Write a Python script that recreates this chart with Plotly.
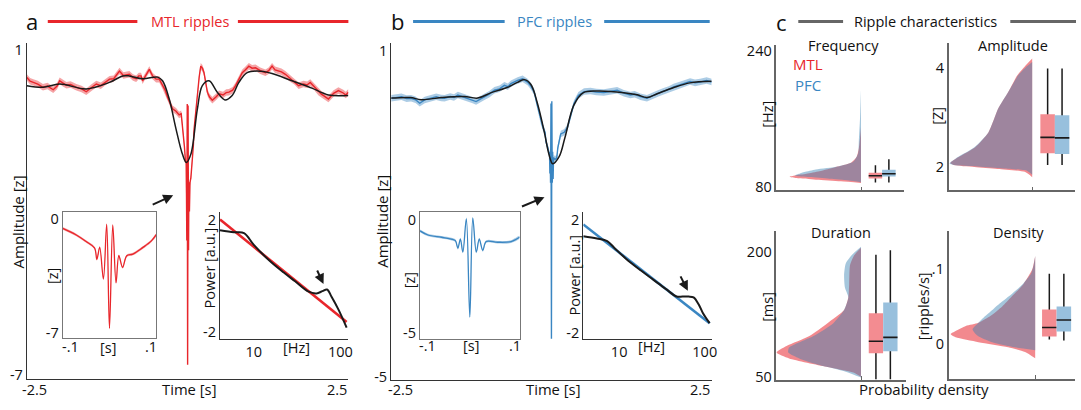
import plotly.graph_objects as go

W, H = 1081, 410
FONT = "Open Sans"

# ================= DATA =================
# ---- a: MTL ripple-locked average LFP [z] vs time [s]
mtl_t_pre = [-2.5, -2.45, -2.4, -2.33, -2.25, -2.18, -2.09, -2.03, -1.99, -1.94, -1.885, -1.82, -1.73,
             -1.65, -1.576, -1.5, -1.42, -1.35, -1.28, -1.215, -1.15, -1.1, -1.06, -1.0, -0.95, -0.906,
             -0.85, -0.8, -0.76, -0.724, -0.7, -0.65, -0.596, -0.545, -0.49, -0.441, -0.39, -0.35,
             -0.313, -0.27, -0.235, -0.18, -0.132]
mtl_v_pre = [0.33, 0.24, 0.21, 0.17, 0.09, 0.12, 0.03, 0.12, 0.25, 0.19, 0.14, 0.16, 0.09,
             0.05, -0.02, 0.08, 0.17, 0.13, 0.22, 0.29, 0.3, 0.42, 0.49, 0.38, 0.4, 0.41,
             0.33, 0.3, 0.37, 0.37, 0.25, 0.4, 0.53, 0.37, 0.29, 0.29, 0.13, 0.02,
             -0.15, -0.3, -0.44, -0.5, -0.59]
mtl_zoom_t = [-0.1, -0.071, -0.05, -0.032, -0.027, -0.021, -0.013, -0.006, 0.0, 0.007, 0.014,
              0.02, 0.028, 0.037, 0.05, 0.071, 0.089, 0.1]
mtl_zoom_v = [-0.56, -0.97, -1.37, -1.77, -2.47, -1.73, -3.68, -0.32, -6.74, -0.36, -3.92,
              -2.25, -2.97, -2.25, -2.15, -1.75, -1.35, -0.95]
mtl_t_post = [0.13, 0.152, 0.18, 0.204, 0.23, 0.255, 0.28, 0.307, 0.34, 0.384, 0.44, 0.488, 0.55,
              0.6, 0.642, 0.7, 0.746, 0.8, 0.85, 0.9, 0.952, 1.003, 1.056, 1.13, 1.21, 1.26, 1.313,
              1.36, 1.4, 1.46, 1.52, 1.6, 1.66, 1.726, 1.8, 1.86, 1.907, 1.97, 2.036, 2.08, 2.12,
              2.19, 2.27, 2.345, 2.42, 2.46, 2.5]
mtl_v_post = [-0.45, -0.03, 0.35, 0.61, 0.56, 0.45, 0.2, -0.03, -0.15, -0.23, -0.15, -0.07, -0.1,
              -0.04, -0.03, 0.02, 0.13, 0.3, 0.45, 0.52, 0.61, 0.56, 0.57, 0.5, 0.45, 0.5, 0.61,
              0.52, 0.5, 0.47, 0.41, 0.3, 0.24, 0.13, 0.17, 0.15, 0.21, 0.1, -0.03, -0.08, -0.12,
              -0.2, -0.06, 0.01, -0.05, -0.1, -0.03]
mtl_sem = 0.08
mtl_slow_t = [-2.5, -2.248, -1.989, -1.576, -1.215, -1.009, -0.906, -0.7, -0.467, -0.39, -0.286,
              -0.183, -0.08, -0.019, 0.05, 0.152, 0.229, 0.333, 0.461, 0.58, 0.693, 0.797, 0.926,
              1.08, 1.313, 1.622, 1.932, 2.19, 2.5]
mtl_slow_v = [0.13, 0.09, 0.17, 0.05, 0.21, 0.37, 0.37, 0.3, 0.34, 0.25, -0.2,
              -0.92, -1.56, -1.76, -1.56, -0.44, 0.13, 0.25, -0.03, -0.22, -0.11, 0.21, 0.45,
              0.49, 0.43, 0.25, 0.07, -0.1, -0.11]
mtl_psd_f = [4.07, 5.9, 7.7, 10, 15, 22, 30, 43, 53, 62, 70, 79, 95, 118]
mtl_psd_p = [1.62, 1.55, 1.52, 1.1, 0.55, 0.12, -0.2, -0.57, -0.63, -0.55, -0.49, -0.75, -1.21, -1.85]
mtl_fit_f = [4.07, 118]
mtl_fit_p = [2.0, -1.65]

# ---- b: PFC
pfc_t_pre = [-2.5, -2.42, -2.34, -2.26, -2.19, -2.12, -2.055, -1.977, -1.9, -1.797, -1.72, -1.667,
             -1.58, -1.52, -1.46, -1.38, -1.304, -1.24, -1.175, -1.11, -1.045, -0.97, -0.89, -0.81,
             -0.734, -0.68, -0.632, -0.58, -0.528, -0.45, -0.373, -0.32, -0.27, -0.22, -0.166, -0.13]
pfc_v_pre = [0.125, 0.14, 0.156, 0.12, 0.125, 0.1, 0.035, 0.096, 0.12, 0.156, 0.13, 0.125,
             0.16, 0.14, 0.186, 0.15, 0.125, 0.1, 0.066, 0.11, 0.156, 0.2, 0.275, 0.3,
             0.365, 0.34, 0.395, 0.43, 0.455, 0.485, 0.425, 0.35, 0.245, 0.0, -0.29, -0.42]
pfc_zoom_t = [-0.1, -0.084, -0.057, -0.037, -0.029, -0.024, -0.019, -0.014, -0.007, 0.0, 0.006,
              0.013, 0.019, 0.026, 0.033, 0.056, 0.083, 0.1]
pfc_zoom_v = [-0.5, -0.68, -0.78, -0.86, -0.93, -1.26, -0.86, -1.43, 0.03, -4.3, 0.07,
              -1.43, -0.86, -1.36, -0.97, -1.0, -0.97, -0.78]
pfc_t_post = [0.145, 0.2, 0.25, 0.3, 0.352, 0.42, 0.508, 0.61, 0.7, 0.818, 0.92, 1.025, 1.13, 1.23,
              1.3, 1.387, 1.49, 1.595, 1.67, 1.75, 1.83, 1.905, 1.98, 2.06, 2.163, 2.24, 2.32,
              2.42, 2.5]
pfc_v_post = [-0.53, -0.5, -0.41, -0.2, 0.03, 0.18, 0.25, 0.26, 0.24, 0.233, 0.26, 0.275, 0.22,
              0.186, 0.2, 0.156, 0.125, 0.186, 0.22, 0.258, 0.29, 0.335, 0.36, 0.395, 0.437, 0.41,
              0.425, 0.455, 0.425]
pfc_sem = 0.06
pfc_slow_t = [-2.5, -2.2, -2.03, -1.72, -1.36, -1.15, -0.94, -0.68, -0.53, -0.42, -0.32, -0.22,
              -0.11, -0.04, 0.02, 0.12, 0.21, 0.35, 0.5, 0.71, 1.13, 1.34, 1.49, 1.65, 1.9, 2.16, 2.5]
pfc_slow_v = [0.13, 0.14, 0.1, 0.14, 0.16, 0.13, 0.23, 0.33, 0.42, 0.47, 0.38, 0.04,
              -0.5, -0.9, -1.08, -0.95, -0.6, 0.0, 0.23, 0.26, 0.23, 0.19, 0.14, 0.21, 0.32, 0.41, 0.44]
pfc_psd_f = [3.81, 5.5, 7.25, 8.8, 12, 18, 25, 35, 47, 55, 65, 74, 85, 95, 114]
pfc_psd_p = [1.41, 1.33, 1.24, 1.0, 0.62, 0.2, -0.12, -0.45, -0.72, -0.72, -0.72, -0.75, -1.0, -1.3, -1.66]
pfc_fit_f = [3.81, 114]
pfc_fit_p = [1.83, -1.66]

# ---- c: ripple characteristics (half-violin relative density + box stats lo,q1,med,q3,hi)
freq_mtl_hz = [84, 86, 88, 90, 91.5, 93, 95, 98, 103, 108, 115, 125, 140, 150]
freq_mtl_dens = [0, 0.28, 0.63, 0.9, 1.0, 0.92, 0.76, 0.58, 0.35, 0.14, 0.06, 0.03, 0.01, 0]
freq_pfc_hz = [85, 87, 89, 91, 93, 95, 97, 100, 103.5, 109, 119, 134, 160, 194]
freq_pfc_dens = [0, 0.17, 0.44, 0.72, 0.92, 0.86, 0.79, 0.63, 0.32, 0.11, 0.04, 0.03, 0.014, 0]
freq_mtl_box = [84.6, 89.3, 92.7, 96.2, 105]
freq_pfc_box = [84.6, 91.6, 95.0, 99.6, 112]

amp_mtl_z = [1.79, 1.9, 1.96, 2.0, 2.04, 2.08, 2.2, 2.4, 2.7, 3.19, 3.52, 3.86, 4.04, 4.2]
amp_mtl_dens = [0, 0.09, 0.42, 0.7, 0.95, 0.99, 0.89, 0.69, 0.53, 0.41, 0.29, 0.18, 0.09, 0]
amp_pfc_z = [1.84, 1.92, 1.97, 2.01, 2.04, 2.07, 2.2, 2.4, 2.7, 3.19, 3.52, 3.86, 4.02, 4.13]
amp_pfc_dens = [0, 0.06, 0.35, 0.66, 0.95, 1.0, 0.9, 0.7, 0.53, 0.41, 0.29, 0.17, 0.08, 0]
amp_mtl_box = [2.04, 2.28, 2.6, 3.07, 4.0]
amp_pfc_box = [2.04, 2.26, 2.59, 3.05, 4.0]

dur_mtl_ms = [50, 55, 62, 72, 79, 87, 99, 114, 130, 145, 161, 184, 196, 205]
dur_mtl_dens = [0, 0.09, 0.41, 0.85, 1.0, 0.88, 0.61, 0.4, 0.2, 0.15, 0.14, 0.13, 0.08, 0]
dur_pfc_ms = [49, 56, 64, 72, 79, 85, 99, 114, 130, 145, 157, 172, 186, 197, 206]
dur_pfc_dens = [0, 0.18, 0.49, 0.73, 0.86, 0.85, 0.56, 0.33, 0.2, 0.15, 0.19, 0.2, 0.18, 0.1, 0]
dur_mtl_box = [46.5, 78.1, 92.5, 126.2, 196.5]
dur_pfc_box = [46.5, 80.5, 97.2, 139, 202]

dens_mtl_val = [-0.02, -0.0114, -0.005, 0.0018, 0.0083, 0.0127, 0.017, 0.0237, 0.028, 0.037, 0.05,
                0.063, 0.08, 0.1, 0.118]
dens_mtl_dens = [0, 0.12, 0.32, 0.67, 0.94, 1.0, 0.94, 0.82, 0.67, 0.53, 0.39, 0.28, 0.14, 0.035, 0]
dens_pfc_val = [-0.009, -0.005, 0.0018, 0.0105, 0.019, 0.028, 0.037, 0.047, 0.054, 0.0675, 0.081,
                0.094, 0.105, 0.118]
dens_pfc_dens = [0, 0.24, 0.51, 0.68, 0.74, 0.67, 0.59, 0.49, 0.42, 0.27, 0.14, 0.05, 0.02, 0]
dens_mtl_box = [0.0053, 0.0096, 0.0215, 0.0457, 0.094]
dens_pfc_box = [0.004, 0.0162, 0.0316, 0.05, 0.094]

# ================= STYLE =================
RED = "#E8262B"
BLUE = "#3A86C2"
BLACK = "#1a1a1a"
TXT = "#111111"
GRAY = "#666666"
RED_BAND = "rgba(232,38,43,0.42)"
BLUE_BAND = "rgba(58,134,194,0.42)"
VIOLIN_RED = "rgba(231,40,50,0.55)"
VIOLIN_BLUE = "rgba(55,128,178,0.45)"
BOX_RED = "#F38C91"
BOX_BLUE = "#98C0DD"
FS = 14.5


def px(x):
    return x / W


def py(y):
    return 1 - y / H


def ids(n):
    return ("x" if n == 1 else f"x{n}", "y" if n == 1 else f"y{n}")


fig = go.Figure()


def add_line(n, x, y, color, width, shape="linear"):
    xa, ya = ids(n)
    fig.add_trace(go.Scatter(x=list(x), y=list(y), xaxis=xa, yaxis=ya, mode="lines",
                             line=dict(color=color, width=width, shape=shape),
                             hoverinfo="skip", showlegend=False))


def add_band(n, x, y, sem, color, shape="linear"):
    xa, ya = ids(n)
    xs = list(x) + list(x)[::-1]
    ys = [v + sem for v in y] + [v - sem for v in y][::-1]
    fig.add_trace(go.Scatter(x=xs, y=ys, xaxis=xa, yaxis=ya, mode="lines", fill="toself",
                             fillcolor=color, line=dict(width=0, shape=shape),
                             hoverinfo="skip", showlegend=False))


def add_violin(n, vals, dens, vw, color):
    xa, ya = ids(n)
    fig.add_trace(go.Scatter(x=[-d * vw for d in dens], y=list(vals), xaxis=xa, yaxis=ya,
                             mode="lines", fill="toself", fillcolor=color,
                             line=dict(width=0, shape="spline", smoothing=0.6),
                             hoverinfo="skip", showlegend=False))


def add_box(n, stats, c, hw, fill):
    lo, q1, med, q3, hi = stats
    xa, ya = ids(n)
    add_line(n, [c, c], [lo, hi], BLACK, 1.5)
    fig.add_trace(go.Scatter(x=[c - hw, c + hw, c + hw, c - hw, c - hw], y=[q1, q1, q3, q3, q1],
                             xaxis=xa, yaxis=ya, mode="lines", fill="toself", fillcolor=fill,
                             line=dict(width=0), hoverinfo="skip", showlegend=False))
    add_line(n, [c - hw, c + hw], [med, med], BLACK, 1.6)


# ---- panel a
mtl_t = mtl_t_pre + mtl_zoom_t + mtl_t_post
mtl_v = mtl_v_pre + mtl_zoom_v + mtl_v_post
add_band(1, mtl_t, mtl_v, mtl_sem, RED_BAND)
add_line(1, mtl_t, mtl_v, RED, 1.4)
add_line(1, mtl_slow_t, mtl_slow_v, BLACK, 1.5, "spline")
add_band(2, mtl_zoom_t, mtl_zoom_v, mtl_sem, RED_BAND, "spline")
add_line(2, mtl_zoom_t, mtl_zoom_v, RED, 1.3, "spline")
add_line(3, mtl_fit_f, mtl_fit_p, RED, 2.6)
add_line(3, mtl_psd_f, mtl_psd_p, BLACK, 2.0, "spline")

# ---- panel b
pfc_t = pfc_t_pre + pfc_zoom_t + pfc_t_post
pfc_v = pfc_v_pre + pfc_zoom_v + pfc_v_post
add_band(4, pfc_t, pfc_v, pfc_sem, BLUE_BAND)
add_line(4, pfc_t, pfc_v, BLUE, 1.4)
add_line(4, pfc_slow_t, pfc_slow_v, BLACK, 1.5, "spline")
add_band(5, pfc_zoom_t, pfc_zoom_v, pfc_sem, BLUE_BAND, "spline")
add_line(5, pfc_zoom_t, pfc_zoom_v, BLUE, 1.3, "spline")
add_line(6, pfc_fit_f, pfc_fit_p, BLUE, 2.6)
add_line(6, pfc_psd_f, pfc_psd_p, BLACK, 2.0, "spline")

# ---- panel c
c_specs = [
    (7, freq_mtl_hz, freq_mtl_dens, freq_pfc_hz, freq_pfc_dens, freq_mtl_box, freq_pfc_box, 72, 14.5, 28, 6.8),
    (8, amp_mtl_z, amp_mtl_dens, amp_pfc_z, amp_pfc_dens, amp_mtl_box, amp_pfc_box, 83, 15.5, 30, 7.3),
    (9, dur_mtl_ms, dur_mtl_dens, dur_pfc_ms, dur_pfc_dens, dur_mtl_box, dur_pfc_box, 85, 15, 29.5, 7.2),
    (10, dens_mtl_val, dens_mtl_dens, dens_pfc_val, dens_pfc_dens, dens_mtl_box, dens_pfc_box, 85, 14.2, 28.8, 7.3),
]
for n, mv, md, pv, pd_, mb, pb, vw, cr, cb, hw in c_specs:
    add_violin(n, mv, md, vw, VIOLIN_RED)
    add_violin(n, pv, pd_, vw, VIOLIN_BLUE)
    add_box(n, mb, cr, hw, BOX_RED)
    add_box(n, pb, cb, hw, BOX_BLUE)

# ================= AXES =================
layout = dict(width=W, height=H, margin=dict(l=0, r=0, t=0, b=0), autosize=False,
              paper_bgcolor="white", plot_bgcolor="rgba(0,0,0,0)", showlegend=False,
              font=dict(family=FONT, size=FS, color=TXT))


def set_axes(n, xpx, ypx, xr, yr, xkw=None, ykw=None):
    xa, ya = ids(n)
    base = dict(showgrid=False, zeroline=False, showline=True, ticks="", fixedrange=True,
                linecolor="#333333", linewidth=1.2, tickfont=dict(size=FS, color=TXT))
    xd = dict(base, domain=[px(xpx[0]), px(xpx[1])], range=xr, anchor=ya)
    yd = dict(base, domain=[py(ypx[1]), py(ypx[0])], range=yr, anchor=xa)
    xd.update(xkw or {})
    yd.update(ykw or {})
    layout["xaxis" if n == 1 else f"xaxis{n}"] = xd
    layout["yaxis" if n == 1 else f"yaxis{n}"] = yd


boxed = dict(mirror=True, linecolor="#777777", linewidth=1.2)
set_axes(1, (27, 350), (40, 384), [-2.5, 2.5], [-7.084, 1.18],
         dict(showticklabels=False), dict(tickvals=[1, -7], ticktext=["1", "-7"]))
set_axes(2, (63, 157), (213, 342), [-0.1, 0.1], [-7.32, 0.465],
         dict(boxed, showticklabels=False),
         dict(boxed, tickvals=[0, -7], ticktext=["0", "-7"]))
set_axes(3, (221, 350), (213, 343), [0.609, 2.092], [-2.243, 2.278],
         dict(type="log", tickvals=[10, 100], ticktext=["10", "100"]),
         dict(tickvals=[2, -2], ticktext=["2", "-2"]))
set_axes(4, (393, 715), (40, 385), [-2.5, 2.5], [-5.054, 1.144],
         dict(showticklabels=False), dict(tickvals=[1, -5], ticktext=["1", "-5"]))
set_axes(5, (422, 522), (213, 343), [-0.1, 0.1], [-5.26, 0.345],
         dict(boxed, showticklabels=False),
         dict(boxed, tickvals=[0, -5], ticktext=["0", "-5"]))
set_axes(6, (586, 715), (213, 343), [0.581, 2.081], [-2.207, 2.276],
         dict(type="log", tickvals=[10, 100], ticktext=["10", "100"]),
         dict(tickvals=[2, -2], ticktext=["2", "-2"]))

cx = dict(tickvals=[0], showticklabels=False, ticks="inside", ticklen=4, tickcolor=GRAY,
          linecolor=GRAY, linewidth=1.5)
cy = dict(linecolor=GRAY, linewidth=1.5)
set_axes(7, (780, 908), (42, 191), [-85, 43], [75.4, 246.9], cx,
         dict(cy, tickvals=[80, 240], ticktext=["80", "240"]))
set_axes(8, (953, 1080), (40, 191), [-84, 43], [1.525, 4.515], cx,
         dict(cy, tickvals=[2, 4], ticktext=["2", "4"]))
set_axes(9, (780, 910), (233, 385), [-85, 45], [46.5, 224.6], cx,
         dict(cy, tickvals=[50, 200], ticktext=["50", "200"]))
set_axes(10, (953, 1080), (233, 384), [-87, 40], [-0.0474, 0.1513], cx,
         dict(cy, tickvals=[0, 0.1], ticktext=["0", ".1"]))

# ================= TEXT / DECOR =================
ann = []


def text(t, x, y, size=FS, color=TXT, angle=0):
    ann.append(dict(text=t, x=px(x), y=py(y), xref="paper", yref="paper", showarrow=False,
                    xanchor="center", yanchor="middle", textangle=angle,
                    font=dict(family=FONT, size=size, color=color)))


def arrow(hx, hy, tx, ty):
    ann.append(dict(text="", x=px(hx), y=py(hy), xref="paper", yref="paper", showarrow=True,
                    ax=tx - hx, ay=ty - hy, arrowhead=2, arrowsize=1, arrowwidth=2,
                    arrowcolor=BLACK, standoff=0))


text("a", 32, 17, 22)
text("b", 399, 17, 22)
text("c", 785, 18, 22)
text("MTL ripples", 191, 18, 14.5, RED)
text("PFC ripples", 557, 18, 14.5, BLUE)
text("Ripple characteristics", 930, 18, 14.5)

text("Amplitude [z]", 18, 223, 15, angle=-90)
text("Time [s]", 190, 395, 14.8)
text("-2.5", 34.5, 395)
text("2.5", 339, 395)
text("[z]", 52, 279, angle=-90)
text("-.1", 71, 351)
text("[s]", 109, 352)
text(".1", 152, 351)
text("Power [a.u.]", 210, 271, angle=-90)
text("[Hz]", 298, 352)

text("Amplitude [z]", 383, 223, 15, angle=-90)
text("Time [s]", 556, 395, 14.8)
text("-2.5", 402, 395)
text("2.5", 703, 395)
text("[z]", 411, 283, angle=-90)
text("-.1", 429, 350)
text("[s]", 473, 350)
text(".1", 517, 350)
text("Power [a.u.]", 577, 278, angle=-90)
text("[Hz]", 655, 351)

text("Frequency", 847, 43)
text("Amplitude", 1018, 43)
text("Duration", 845, 234)
text("Density", 1023, 234)
text("MTL", 812, 62, 15, RED)
text("PFC", 812, 83, 15, BLUE)
text("[Hz]", 771, 113, angle=-90)
text("[Z]", 942, 115, angle=-90)
text("[ms]", 771, 310, angle=-90)
text("[ripples/s]", 928, 310, angle=-90)
text("Probability density", 928, 395, 15)

arrow(174, 196, 152, 206)
arrow(547, 198, 523, 208)
arrow(325, 287, 318, 272)
arrow(691, 294, 683, 278)

shapes = []


def hline(x0, x1, y, color):
    shapes.append(dict(type="line", xref="paper", yref="paper", x0=px(x0), x1=px(x1),
                       y0=py(y), y1=py(y), line=dict(color=color, width=3)))


hline(48, 138, 18, RED)
hline(239, 350, 18, RED)
hline(415, 507, 18, BLUE)
hline(607, 713, 18, BLUE)
hline(802, 847, 18, GRAY)
hline(1015, 1081, 18, GRAY)

layout["annotations"] = ann
layout["shapes"] = shapes
fig.update_layout(**layout)
fig.write_html("out.html", config=dict(displayModeBar=False),
               post_script="document.body.style.margin='0px';document.body.style.overflow='hidden';")
